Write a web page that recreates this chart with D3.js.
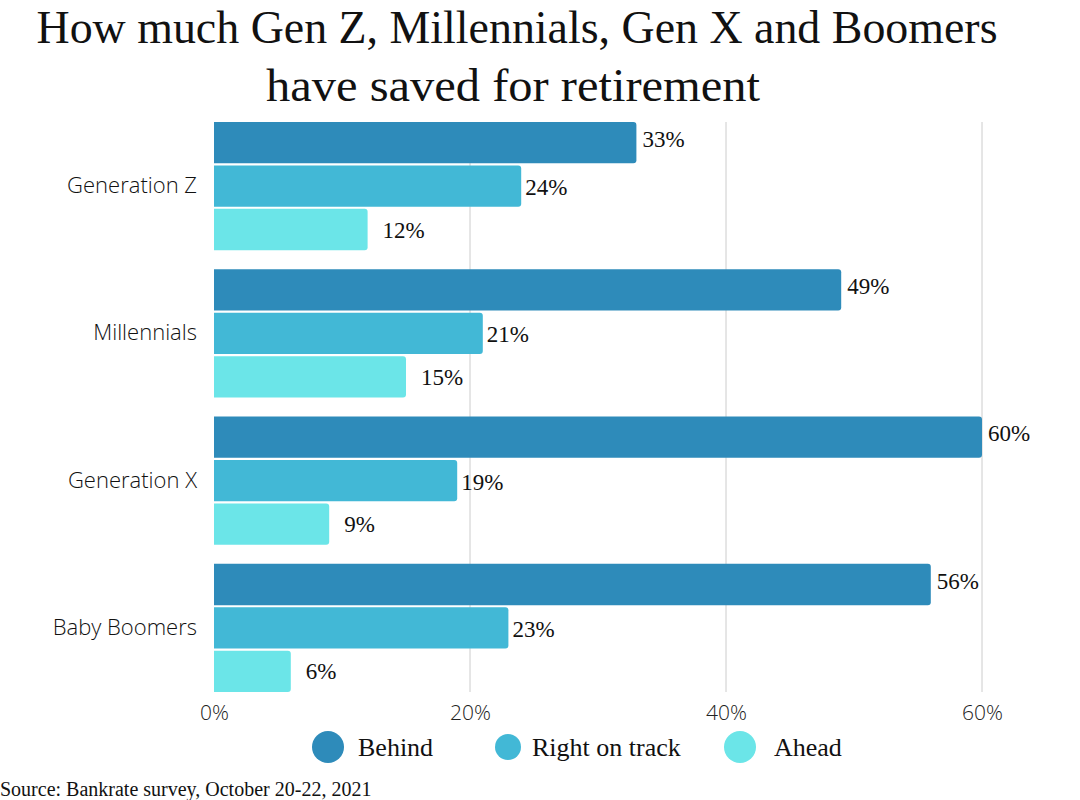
<!DOCTYPE html>
<html><head><meta charset="utf-8">
<script src="https://cdn.jsdelivr.net/npm/d3@7"></script>
<style>body{margin:0;background:#fff}svg{display:block}</style>
</head><body>
<svg id="chart" width="1080" height="800"></svg>
<script>
const categories = ["Generation Z", "Millennials", "Generation X", "Baby Boomers"];
const seriesNames = ["Behind", "Right on track", "Ahead"];
const behind = [33, 49, 60, 56];
const onTrack = [24, 21, 19, 23];
const ahead = [12, 15, 9, 6];
const xTicks = [0, 20, 40, 60];
const colors = ["#2e8bba", "#42b8d6", "#6be5e8"];
const seriesValues = [behind, onTrack, ahead];

const svg = d3.select("#chart");
const x = d3.scaleLinear().domain([0, 60]).range([214, 982]);
const y0 = d3.scaleBand().domain(categories).range([122, 692]).paddingInner(0.13).paddingOuter(0);
const y1 = d3.scaleBand().domain(seriesNames).range([0, y0.bandwidth()]).paddingInner(0.05);
const color = d3.scaleOrdinal().domain(seriesNames).range(colors);

// title
svg.append("text").attr("x", 517).attr("y", 43).attr("text-anchor", "middle")
  .attr("textLength", 961).attr("lengthAdjust", "spacingAndGlyphs")
  .style("font-family", "'Liberation Serif', serif").style("font-size", "47px").attr("fill", "#111")
  .text("How much Gen Z, Millennials, Gen X and Boomers");
svg.append("text").attr("x", 513).attr("y", 101).attr("text-anchor", "middle")
  .attr("textLength", 494).attr("lengthAdjust", "spacingAndGlyphs")
  .style("font-family", "'Liberation Serif', serif").style("font-size", "47px").attr("fill", "#111")
  .text("have saved for retirement");

// grid
const grid = svg.append("g");
grid.selectAll("line").data(xTicks.filter(d => d > 0)).join("line")
  .attr("x1", d => x(d)).attr("x2", d => x(d)).attr("y1", 122).attr("y2", 692)
  .attr("stroke", "#cccccc").attr("stroke-width", 1);

// x axis
const xAxis = d3.axisBottom(x).tickValues(xTicks).tickFormat(d => d + "%").tickSize(0).tickPadding(0);
const gx = svg.append("g").attr("transform", "translate(0,705)").call(xAxis);
gx.select(".domain").remove();
gx.selectAll("text").style("font-family", "'Open Sans', sans-serif").style("font-weight", 300)
  .style("font-size", "21px").attr("fill", "#222").attr("dy", "0.71em");

// y axis
const yAxis = d3.axisLeft(y0).tickSize(0).tickPadding(17);
const gy = svg.append("g").attr("transform", "translate(214,0)").call(yAxis);
gy.select(".domain").remove();
gy.selectAll("text").style("font-family", "'Open Sans', sans-serif").style("font-weight", 300)
  .style("font-size", "22px").attr("fill", "#111");

// bars
const rows = [];
categories.forEach((c, i) => seriesNames.forEach((s, j) => rows.push({cat: c, series: s, value: seriesValues[j][i]})));

const bars = svg.append("g");
bars.selectAll("path").data(rows).join("path")
  .attr("fill", d => color(d.series))
  .attr("d", d => {
    const x0 = x(0), x1 = x(d.value), yt = y0(d.cat) + y1(d.series), h = y1.bandwidth(), r = 3;
    return `M${x0},${yt}H${x1 - r}Q${x1},${yt} ${x1},${yt + r}V${yt + h - r}Q${x1},${yt + h} ${x1 - r},${yt + h}H${x0}Z`;
  });

const labelOffset = {"Behind": 6, "Right on track": 4, "Ahead": 15};
const labelShift = {"Behind": -4, "Right on track": 1, "Ahead": 0};
svg.append("g").selectAll("text").data(rows).join("text")
  .attr("x", d => x(d.value) + labelOffset[d.series])
  .attr("y", d => y0(d.cat) + y1(d.series) + y1.bandwidth() / 2 + labelShift[d.series])
  .attr("dy", "0.35em")
  .style("font-family", "'Liberation Serif', serif").style("font-size", "23px").attr("fill", "#111")
  .text(d => d.value + "%");

// legend
const legendPos = [{cx: 328, tx: 358, r: 16}, {cx: 508, tx: 532, r: 13}, {cx: 740, tx: 774, r: 16}];
const lg = svg.append("g");
seriesNames.forEach((s, i) => {
  lg.append("circle").attr("cx", legendPos[i].cx).attr("cy", 747).attr("r", legendPos[i].r).attr("fill", color(s));
  lg.append("text").attr("x", legendPos[i].tx).attr("y", 747).attr("dy", "0.35em")
    .style("font-family", "'Liberation Serif', serif").style("font-size", "26px").attr("fill", "#111").text(s);
});

// source
svg.append("text").attr("x", 0).attr("y", 796)
  .style("font-family", "'Liberation Serif', serif").style("font-size", "20px").attr("fill", "#111")
  .text("Source: Bankrate survey, October 20-22, 2021");
</script>
</body></html>
